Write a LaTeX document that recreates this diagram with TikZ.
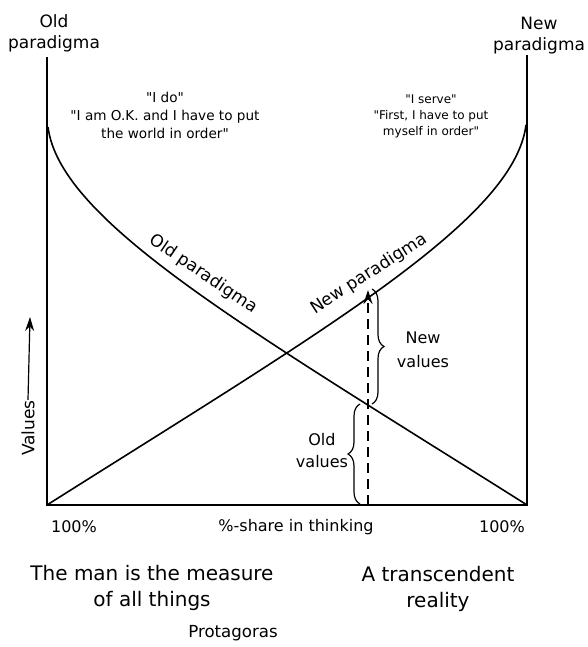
\documentclass[tikz,border=0pt]{standalone}
\usepackage{fontspec}
\setmainfont{DejaVu Sans}[Ligatures=TeXOff]
\usetikzlibrary{arrows.meta, decorations.pathreplacing, positioning}
\tikzset{
    axisline/.style = {
        line width=1pt
    },
    paraline/.style = {
        line width=0.8pt
    },
    heading/.style = {
        align=center, inner sep=0pt,
        font=\fontsize{8.5}{10.5}\selectfont
    },
    saying/.style = {
        align=center, inner sep=0pt,
        font=\fontsize{6.8}{9}\selectfont
    },
    bigtext/.style = {
        align=center, inner sep=0pt,
        font=\fontsize{10}{13}\selectfont
    },
    arrow/.style = {
        -{Stealth[length=7pt, width=4.5pt]}, line width=0.6pt
    },
    bracket/.style = {
        decorate, decoration={brace, amplitude=6pt}, line width=0.6pt
    }
}
\begin{document}
\begin{tikzpicture}[x=0.5pt, y=-0.5pt]
\useasboundingbox (0,0) rectangle (588,647);

% corners of the frame
\coordinate (ltop) at (47,57);
\coordinate (origin) at (47,505);
\coordinate (rbot) at (527,505);
\coordinate (rtop) at (527,55);
\coordinate (oldstart) at (48,127);
\coordinate (newstart) at (526,125);

\draw [axisline] (ltop) -- (origin) -- (rbot) -- (rtop);

% the two paradigms
\draw [paraline] (oldstart) .. controls (60,222) and (250,330) .. (rbot);
\draw [paraline] (newstart) .. controls (514,220) and (324,330) .. (origin);

\node (oldhead) [heading] at (54,33) {Old\\paradigma};
\node (newhead) [heading] at (539,36) {New\\paradigma};

\node (oldsay) [saying] at (165,115) {"I do"\\"I am O.K. and I have to put\\the world in order"};
\node (newsay) [saying, font=\fontsize{6}{8}\selectfont] at (431,116) {"I serve"\\"First, I have to put\\myself in order"};

\node (oldname) [heading, rotate=-34] at (203,274) {Old paradigma};
\node (newname) [heading, rotate=33] at (369,274) {New paradigma};

% values axis
\node (values) [heading, rotate=90] at (28,428) {Values};
\coordinate (valtip) at (30,317);
\draw [arrow] (values.east) -- (valtip);

% dashed arrow with the braces
\coordinate (dashbot) at (368,505);
\coordinate (dashtop) at (368,290);
\draw [arrow, dash pattern=on 5pt off 3pt] (dashbot) -- (dashtop);

\coordinate (newtop) at (372,289);
\coordinate (newbot) at (372,404);
\coordinate (oldtop) at (360,404);
\coordinate (oldbot) at (360,504);
\draw [bracket] (newtop) -- (newbot);
\draw [bracket] (oldbot) -- (oldtop);

\node (newval) [heading, font=\fontsize{8}{12}\selectfont] at (423,350) {New\\values};
\node (oldval) [heading, font=\fontsize{8}{11}\selectfont] at (322,451) {Old\\values};

% bottom scale
\node (leftpct) [heading, font=\fontsize{8}{10}\selectfont] at (74,527) {100\%};
\node (rightpct) [heading, font=\fontsize{8}{10}\selectfont] at (502,527) {100\%};
\node (share) [heading, font=\fontsize{8}{10}\selectfont] at (296,527) {\%-share in thinking};

\node (man) [bigtext] at (152,588) {The man is the measure\\of all things};
\node (reality) [bigtext] at (438,589) {A transcendent\\reality};
\node (protagoras) [heading, font=\fontsize{8.3}{10}\selectfont] at (233,633) {Protagoras};

\end{tikzpicture}
\end{document}
